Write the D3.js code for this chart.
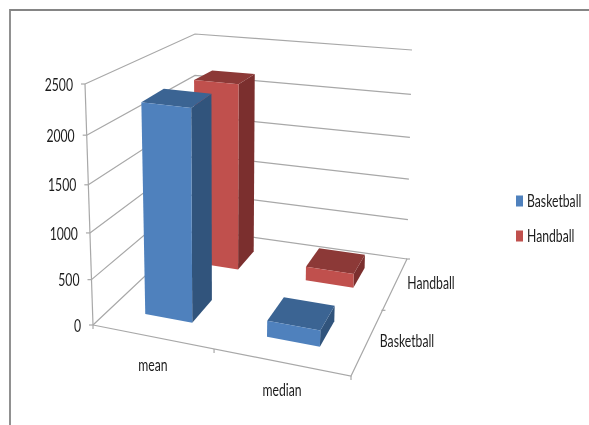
<!DOCTYPE html>
<html>
<head>
<meta charset="utf-8">
<script src="https://cdn.jsdelivr.net/npm/d3@7"></script>
<style>
html,body{margin:0;padding:0;background:#fff}
svg{display:block;filter:blur(0.35px)}
text{font-family:Lato,"Open Sans",sans-serif;font-size:16.5px;fill:#1c1c1c}
</style>
</head>
<body>
<svg id="c" width="589" height="425"></svg>
<script>
const categories = ["mean", "median"];
const seriesNames = ["Basketball", "Handball"];
const basketball = [2255, 175];
const handball = [2165, 165];
const yTicks = [0, 500, 1000, 1500, 2000, 2500];

const colors = {
  Basketball: {front:"#4f81bd", side:"#31547c", top:"#3b6493"},
  Handball: {front:"#c0504d", side:"#7b2f2e", top:"#8c3937"}
};
const values = {Basketball: basketball, Handball: handball};

const svg = d3.select("#c");

const x = d3.scaleBand().domain(categories).range([0,1]).paddingInner(0.6).paddingOuter(0.3).align(0.5);
const z = d3.scaleBand().domain(seriesNames).range([0,1]).paddingInner(0.6).paddingOuter(0.3);
const y = d3.scaleLinear().domain([0,2500]).range([0,1]);

function quad(p00,p10,p11,p01){
  const dx1=p10[0]-p11[0], dy1=p10[1]-p11[1], dx2=p01[0]-p11[0], dy2=p01[1]-p11[1];
  const sx=p00[0]-p10[0]+p11[0]-p01[0], sy=p00[1]-p10[1]+p11[1]-p01[1];
  const den=dx1*dy2-dx2*dy1;
  const g=(sx*dy2-dx2*sy)/den, h=(dx1*sy-sx*dy1)/den;
  const a=p10[0]-p00[0]+g*p10[0], b=p01[0]-p00[0]+h*p01[0];
  const d=p10[1]-p00[1]+g*p10[1], e=p01[1]-p00[1]+h*p01[1];
  return (u,v)=>{const q=g*u+h*v+1;return [(a*u+b*v+p00[0])/q,(d*u+e*v+p00[1])/q];};
}
const floorH = quad([93,325],[351,376],[407,259],[195,229]);
// vertical edge (full axis height) at each floor corner: front-left, front-right, back-right, back-left
const rise = {fl:[-8,-241], fr:[10,-258], br:[5,-209], bl:[0,-195]};
const K = -0.0727;
function P(u,w,v){
  const b=floorH(u,v), s=w*(1+K)/(1+K*w);
  const r=[0,1].map(i=>(1-v)*((1-u)*rise.fl[i]+u*rise.fr[i])+v*((1-u)*rise.bl[i]+u*rise.br[i]));
  return [b[0]+r[0]*s, b[1]+r[1]*s];
}
const line = d3.line();
const closed = d3.line().curve(d3.curveLinearClosed);

// narrow text: horizontally scaled about its anchor point
const SX = 0.74;
function label(px,py,str,anchor){
  return svg.append("text").attr("transform",`translate(${px},${py+1.5}) scale(${SX},1)`)
    .attr("text-anchor",anchor).attr("dominant-baseline","middle").text(str);
}

// frame
svg.append("path").attr("d",line([[10,425],[10,10],[589,10]]))
  .attr("fill","none").attr("stroke","#858585").attr("stroke-width",1.8);

const g = svg.append("g").attr("fill","none").attr("stroke","#a8a8a8").attr("stroke-width",1.2);
// walls
yTicks.forEach(t=>{
  const w=y(t), p=P(0,w,0);
  g.append("path").attr("d",line([p,P(0,w,1),P(1,w,1)]));
  g.append("path").attr("d",line([[p[0]-4,p[1]],p]));
  label(p[0]-12,p[1]+1,String(t),"end");
});
// axes on the floor
g.append("path").attr("d",line([P(0,1,0),P(0,0,0)]));
g.append("path").attr("d",line([P(0,0,0),P(1,0,0),P(1,0,1)]));
[0,0.5,1].forEach(u=>{const p=P(u,0,0);g.append("path").attr("d",line([p,[p[0],p[1]+4]]));});
[0.5,1].forEach(v=>{const p=P(1,0,v);g.append("path").attr("d",line([[p[0]-1,p[1]],[p[0]+3,p[1]]]));});

// bars, back row first
[...seriesNames].reverse().forEach(s=>{
  categories.forEach((c,i)=>{
    const u0=x(c),u1=u0+x.bandwidth(),v0=z(s),v1=v0+z.bandwidth(),w=y(values[s][i]);
    const col=colors[s];
    svg.append("path").attr("fill",col.side).attr("d",closed([P(u1,0,v0),P(u1,0,v1),P(u1,w,v1),P(u1,w,v0)]));
    svg.append("path").attr("fill",col.top).attr("d",closed([P(u0,w,v0),P(u1,w,v0),P(u1,w,v1),P(u0,w,v1)]));
    svg.append("path").attr("fill",col.front).attr("d",closed([P(u0,0,v0),P(u1,0,v0),P(u1,w,v0),P(u0,w,v0)]));
  });
});

// category labels
const catPos = [[153,365],[282,390]];
categories.forEach((c,i)=>label(catPos[i][0],catPos[i][1],c,"middle"));
const serPos = [[407,341],[431,283]];
seriesNames.forEach((s,i)=>label(serPos[i][0],serPos[i][1],s,"middle"));

// legend
const legY = d3.scalePoint().domain(seriesNames).range([201,236]);
seriesNames.forEach(s=>{
  svg.append("rect").attr("x",516).attr("y",legY(s)-5.5).attr("width",7).attr("height",11).attr("fill",colors[s].front);
  label(527,legY(s),s,"start");
});
</script>
</body>
</html>
